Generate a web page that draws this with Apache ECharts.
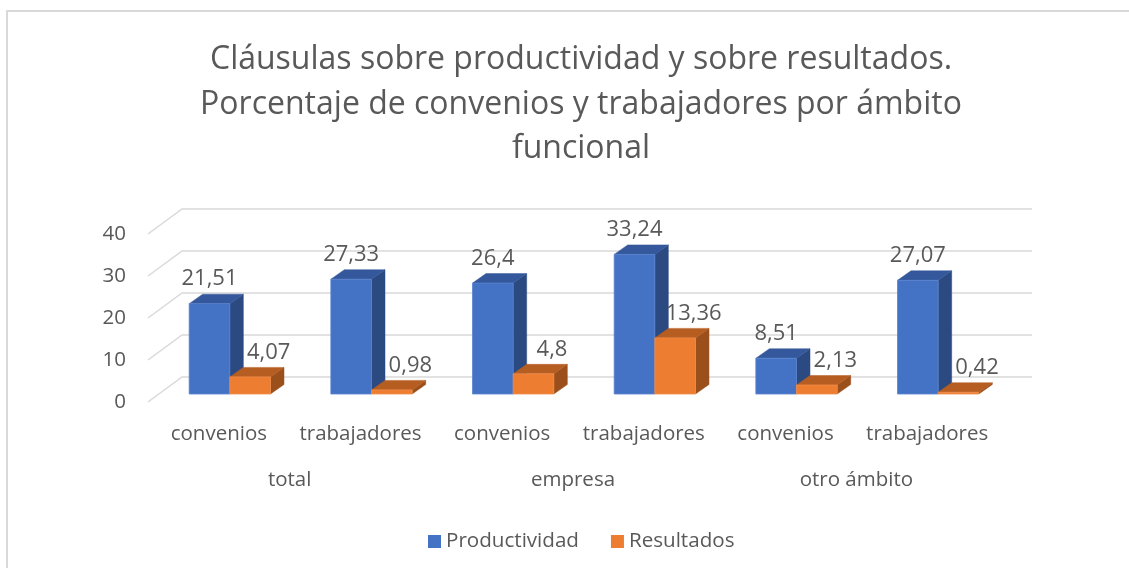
<!DOCTYPE html>
<html>
<head>
<meta charset="utf-8">
<script src="https://cdn.jsdelivr.net/npm/echarts@6/dist/echarts.min.js"></script>
<style>
  html, body { margin: 0; padding: 0; background: #fff; }
  #chart { width: 1129px; height: 568px; }
</style>
</head>
<body>
<div id="chart"></div>
<script>
// datos del gráfico
const categorias = ['convenios', 'trabajadores', 'convenios', 'trabajadores', 'convenios', 'trabajadores']
const ambitos = ['total', 'empresa', 'otro ámbito']
const productividad = [21.51, 27.33, 26.4, 33.24, 8.51, 27.07]
const resultados = [4.07, 0.98, 4.8, 13.36, 2.13, 0.42]
const yTicks = [0, 10, 20, 30, 40]

const FONT = '"Open Sans", sans-serif'
const GRIS = '#595959'
// profundidad del suelo y de las barras (efecto 3D)
const FLOOR = [34, -25]
const BAR_OFF = [11, -8]
const BAR_DEPTH = [13.5, -9.5]

const fmt = v => String(v).replace('.', ',')

// barra 3D: cara frontal, superior y lateral
function barRender(side, colors, labelDx) {
  return function (params, api) {
    const i = api.value(0)
    const v = api.value(1)
    const band = api.size([1, 0])[0]
    const w = band * 0.287
    const top = api.coord([i, v])
    const base = api.coord([i, 0])
    const cx = top[0] + BAR_OFF[0]
    const x0 = side === 0 ? cx - w : cx
    const x1 = x0 + w
    const yT = top[1] + BAR_OFF[1]
    const yB = base[1] + BAR_OFF[1]
    const dx = BAR_DEPTH[0], dy = BAR_DEPTH[1]
    return {
      type: 'group',
      children: [
        {
          type: 'polygon',
          shape: { points: [[x1, yB], [x1 + dx, yB + dy], [x1 + dx, yT + dy], [x1, yT]] },
          style: { fill: colors[2], stroke: colors[2], lineWidth: 0.5 }
        },
        {
          type: 'polygon',
          shape: { points: [[x0, yT], [x0 + dx, yT + dy], [x1 + dx, yT + dy], [x1, yT]] },
          style: { fill: colors[1], stroke: colors[1], lineWidth: 0.5 }
        },
        {
          type: 'rect',
          shape: { x: x0, y: yT, width: w, height: yB - yT },
          style: { fill: colors[0], stroke: colors[3], lineWidth: 0.8 }
        },
        {
          type: 'text',
          x: (x0 + x1) / 2 + labelDx,
          y: yT - 24.5,
          style: {
            text: fmt(v), fill: GRIS, font: '22px ' + FONT,
            align: 'center', verticalAlign: 'middle'
          }
        }
      ]
    }
  }
}

// líneas de la cuadrícula en perspectiva
function gridRender(params, api) {
  const v = api.value(1)
  const band = api.size([1, 0])[0]
  const left = api.coord([0, v])[0] - band / 2
  const right = api.coord([categorias.length - 1, v])[0] + band / 2
  const y = api.coord([0, v])[1]
  return {
    type: 'polyline',
    shape: { points: [[left, y], [left + FLOOR[0], y + FLOOR[1]], [right + FLOOR[0], y + FLOOR[1]]] },
    style: { stroke: '#D9D9D9', lineWidth: 1.5, fill: null }
  }
}

const chart = echarts.init(document.getElementById('chart'))
chart.setOption({
  animation: false,
  color: ['#4472C4', '#ED7D31'],
  title: {
    text: 'Cláusulas sobre productividad y sobre resultados.\nPorcentaje de convenios y trabajadores por ámbito\nfuncional',
    left: 576,
    textAlign: 'center',
    top: 33,
    textStyle: { fontFamily: FONT, fontSize: 32, fontWeight: 'normal', color: GRIS, lineHeight: 44.5 }
  },
  graphic: [{
    type: 'rect',
    shape: { x: 7, y: 11, width: 1130, height: 580 },
    style: { fill: null, stroke: '#D9D9D9', lineWidth: 2 },
    silent: true
  }],
  legend: {
    top: 526,
    left: 423,
    icon: 'rect',
    itemWidth: 13,
    itemHeight: 13,
    itemGap: 32,
    textStyle: { fontFamily: FONT, fontSize: 20.6, color: GRIS },
    data: ['Productividad', 'Resultados']
  },
  grid: { left: 148, right: 131, top: 234, bottom: 166 },
  xAxis: [
    {
      type: 'category',
      data: categorias,
      axisLine: { show: false },
      axisTick: { show: false },
      axisLabel: { interval: 0, margin: 22, fontFamily: FONT, fontSize: 20.5, color: GRIS }
    },
    {
      type: 'category',
      data: ambitos,
      position: 'bottom',
      offset: 46,
      axisLine: { show: false },
      axisTick: { show: false },
      axisLabel: { interval: 0, margin: 22, fontFamily: FONT, fontSize: 20.5, color: GRIS }
    }
  ],
  yAxis: {
    type: 'value',
    min: yTicks[0],
    max: yTicks[yTicks.length - 1],
    interval: 10,
    axisLine: { show: false },
    axisTick: { show: false },
    splitLine: { show: false },
    axisLabel: { margin: 22, fontFamily: FONT, fontSize: 20.5, color: GRIS }
  },
  series: [
    {
      type: 'custom',
      name: 'grid3d',
      silent: true,
      z: 1,
      renderItem: gridRender,
      data: yTicks.map(t => [0, t]),
      encode: { x: 0, y: 1 }
    },
    {
      type: 'custom',
      name: 'Productividad',
      z: 2,
      clip: false,
      itemStyle: { color: '#4472C4' },
      renderItem: barRender(0, ['#4472C4', '#34589B', '#2B4A81', '#5A84CF'], 0),
      data: productividad.map((v, i) => [i, v]),
      encode: { x: 0, y: 1 }
    },
    {
      type: 'custom',
      name: 'Resultados',
      z: 3,
      clip: false,
      itemStyle: { color: '#ED7D31' },
      renderItem: barRender(1, ['#ED7D31', '#B65D21', '#9B4F1B', '#F08E4D'], 18.5),
      data: resultados.map((v, i) => [i, v]),
      encode: { x: 0, y: 1 }
    }
  ]
})
</script>
</body>
</html>
